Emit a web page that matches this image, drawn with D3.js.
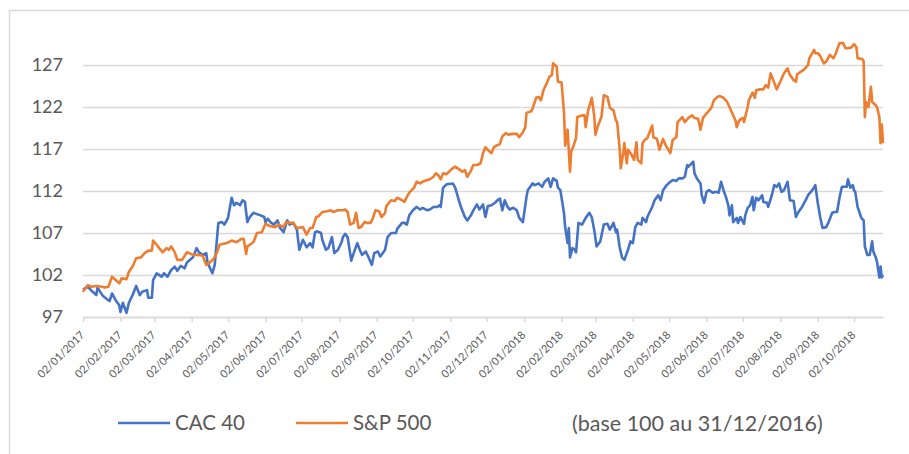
<!DOCTYPE html>
<html>
<head>
<meta charset="utf-8">
<script src="https://cdn.jsdelivr.net/npm/d3@7"></script>
<style>
  body { margin: 0; background: #fff; }
  svg { display: block; font-family: Lato, "Open Sans", sans-serif; }
</style>
</head>
<body>
<div id="wrapper"></div>
<script>
// values (base 100 au 31/12/2016)
const cac40 = [
  ["2017-01-02",100.3],["2017-01-06",100.6],["2017-01-10",100.0],["2017-01-13",99.6],["2017-01-14",100.5],
  ["2017-01-18",99.6],["2017-01-22",99.1],["2017-01-24",98.9],["2017-01-26",99.8],["2017-01-29",99.0],
  ["2017-02-01",98.4],["2017-02-02",97.6],["2017-02-04",98.7],["2017-02-07",97.5],["2017-02-09",98.7],
  ["2017-02-12",99.6],["2017-02-15",100.7],["2017-02-18",99.6],["2017-02-20",100.0],["2017-02-24",100.2],
  ["2017-02-25",99.3],["2017-02-28",99.3],["2017-03-01",101.4],["2017-03-04",102.2],["2017-03-08",101.8],
  ["2017-03-10",102.2],["2017-03-13",101.8],["2017-03-16",102.6],["2017-03-19",103.0],["2017-03-21",102.5],
  ["2017-03-24",103.1],["2017-03-27",102.8],["2017-03-29",103.5],["2017-04-03",104.1],["2017-04-06",105.2],
  ["2017-04-08",104.7],["2017-04-11",104.4],["2017-04-14",104.6],["2017-04-15",103.5],["2017-04-19",102.2],
  ["2017-04-21",103.2],["2017-04-24",108.2],["2017-04-27",108.3],["2017-04-29",108.0],["2017-05-02",108.8],
  ["2017-05-05",111.2],["2017-05-07",110.3],["2017-05-09",110.6],["2017-05-12",110.3],["2017-05-14",110.9],
  ["2017-05-16",110.7],["2017-05-18",108.3],["2017-05-20",108.9],["2017-05-23",109.4],["2017-05-29",109.1],
  ["2017-06-01",108.9],["2017-06-02",108.3],["2017-06-04",108.7],["2017-06-06",108.3],["2017-06-09",108.0],
  ["2017-06-12",108.5],["2017-06-14",107.6],["2017-06-17",107.1],["2017-06-20",108.5],["2017-06-22",108.0],
  ["2017-06-25",108.2],["2017-06-28",107.4],["2017-06-30",105.0],["2017-07-03",106.2],["2017-07-06",105.3],
  ["2017-07-09",105.8],["2017-07-11",105.3],["2017-07-13",107.1],["2017-07-15",107.2],["2017-07-18",107.0],
  ["2017-07-19",106.2],["2017-07-22",105.0],["2017-07-24",105.2],["2017-07-27",106.5],["2017-07-29",104.6],
  ["2017-08-01",105.0],["2017-08-04",105.9],["2017-08-05",106.5],["2017-08-07",106.9],["2017-08-09",106.5],
  ["2017-08-12",103.7],["2017-08-14",104.6],["2017-08-17",105.8],["2017-08-19",105.0],["2017-08-21",104.4],
  ["2017-08-24",104.8],["2017-08-26",104.2],["2017-08-29",103.2],["2017-08-31",104.6],["2017-09-03",104.8],
  ["2017-09-05",104.2],["2017-09-09",105.0],["2017-09-11",106.5],["2017-09-14",107.0],["2017-09-18",107.0],
  ["2017-09-19",107.5],["2017-09-23",108.2],["2017-09-25",108.2],["2017-09-27",108.0],["2017-09-29",109.1],
  ["2017-10-02",109.7],["2017-10-05",110.1],["2017-10-08",109.8],["2017-10-10",110.0],["2017-10-14",109.7],
  ["2017-10-16",109.8],["2017-10-19",110.1],["2017-10-22",110.1],["2017-10-24",110.3],["2017-10-25",110.1],
  ["2017-10-27",112.4],["2017-10-30",112.8],["2017-11-04",112.9],["2017-11-06",112.4],["2017-11-09",110.9],
  ["2017-11-11",110.0],["2017-11-14",108.9],["2017-11-16",108.5],["2017-11-19",109.1],["2017-11-21",109.7],
  ["2017-11-24",110.4],["2017-11-26",109.8],["2017-11-29",110.4],["2017-12-01",108.9],["2017-12-03",110.2],
  ["2017-12-06",110.3],["2017-12-09",110.6],["2017-12-11",110.9],["2017-12-13",111.1],["2017-12-15",109.7],
  ["2017-12-17",110.9],["2017-12-19",110.2],["2017-12-21",109.8],["2017-12-24",110.0],["2017-12-27",109.7],
  ["2017-12-29",108.8],["2018-01-01",108.3],["2018-01-04",111.3],["2018-01-05",112.1],["2018-01-09",112.9],
  ["2018-01-11",112.7],["2018-01-14",112.9],["2018-01-17",112.5],["2018-01-19",113.1],["2018-01-22",113.5],
  ["2018-01-24",112.5],["2018-01-26",113.5],["2018-01-29",113.2],["2018-01-30",112.4],["2018-02-01",112.1],
  ["2018-02-04",109.4],["2018-02-05",107.7],["2018-02-07",105.8],["2018-02-08",107.6],["2018-02-09",104.1],
  ["2018-02-11",105.2],["2018-02-13",105.0],["2018-02-14",104.7],["2018-02-16",108.2],["2018-02-19",108.0],
  ["2018-02-22",108.8],["2018-02-25",109.4],["2018-02-27",108.9],["2018-03-01",107.4],["2018-03-03",105.4],
  ["2018-03-06",106.0],["2018-03-09",108.0],["2018-03-12",108.1],["2018-03-14",107.4],["2018-03-17",108.2],
  ["2018-03-19",107.1],["2018-03-20",107.4],["2018-03-22",105.4],["2018-03-24",104.1],["2018-03-26",103.8],
  ["2018-03-29",105.0],["2018-03-31",106.0],["2018-04-02",105.8],["2018-04-04",107.7],["2018-04-06",108.2],
  ["2018-04-09",108.0],["2018-04-10",108.8],["2018-04-13",108.3],["2018-04-14",108.9],["2018-04-18",110.1],
  ["2018-04-20",110.9],["2018-04-23",111.5],["2018-04-25",110.9],["2018-04-27",112.1],["2018-04-30",112.7],
  ["2018-05-03",113.1],["2018-05-05",113.3],["2018-05-08",113.2],["2018-05-10",113.5],["2018-05-13",113.5],
  ["2018-05-15",113.7],["2018-05-17",115.1],["2018-05-18",114.9],["2018-05-22",115.5],["2018-05-23",114.1],
  ["2018-05-25",113.5],["2018-05-28",112.9],["2018-05-29",111.5],["2018-05-31",110.6],["2018-06-02",111.9],
  ["2018-06-04",112.1],["2018-06-07",111.8],["2018-06-10",111.9],["2018-06-12",111.8],["2018-06-14",113.1],
  ["2018-06-16",112.1],["2018-06-18",111.3],["2018-06-20",110.3],["2018-06-21",109.1],["2018-06-23",110.3],
  ["2018-06-24",108.3],["2018-06-27",108.8],["2018-06-28",108.2],["2018-06-30",108.9],["2018-07-03",108.1],
  ["2018-07-04",109.1],["2018-07-06",110.0],["2018-07-08",110.3],["2018-07-10",111.3],["2018-07-11",109.7],
  ["2018-07-13",111.2],["2018-07-15",110.9],["2018-07-18",111.5],["2018-07-19",110.7],["2018-07-22",110.6],
  ["2018-07-23",110.1],["2018-07-26",111.5],["2018-07-28",112.7],["2018-07-30",112.5],["2018-08-01",112.9],
  ["2018-08-03",111.9],["2018-08-05",112.1],["2018-08-08",113.1],["2018-08-10",110.9],["2018-08-13",110.8],
  ["2018-08-15",108.9],["2018-08-17",109.5],["2018-08-20",110.1],["2018-08-23",110.9],["2018-08-25",111.5],
  ["2018-08-29",112.2],["2018-08-31",112.7],["2018-09-02",110.6],["2018-09-04",108.9],["2018-09-06",107.6],
  ["2018-09-09",107.7],["2018-09-11",108.3],["2018-09-14",109.4],["2018-09-16",109.5],["2018-09-18",109.5],
  ["2018-09-20",111.2],["2018-09-22",112.5],["2018-09-24",112.5],["2018-09-26",112.5],["2018-09-27",113.4],
  ["2018-09-29",112.4],["2018-10-01",112.7],["2018-10-02",112.1],["2018-10-03",111.9],["2018-10-05",110.1],
  ["2018-10-06",109.7],["2018-10-08",108.8],["2018-10-10",108.5],["2018-10-11",105.4],["2018-10-13",104.4],
  ["2018-10-15",104.4],["2018-10-17",106.0],["2018-10-18",104.8],["2018-10-20",104.1],["2018-10-21",103.6],
  ["2018-10-23",101.7],["2018-10-24",103.0],["2018-10-25",101.7],["2018-10-26",102.0]
]

const sp500 = [
  ["2017-01-02",100.0],["2017-01-06",100.8],["2017-01-09",100.6],["2017-01-13",100.7],["2017-01-18",100.6],
  ["2017-01-20",100.5],["2017-01-23",100.6],["2017-01-26",101.8],["2017-01-29",101.4],["2017-02-01",101.0],
  ["2017-02-03",101.6],["2017-02-07",101.5],["2017-02-09",102.4],["2017-02-12",103.0],["2017-02-15",104.0],
  ["2017-02-19",104.1],["2017-02-22",104.6],["2017-02-25",104.9],["2017-02-28",104.9],["2017-03-01",106.1],
  ["2017-03-04",105.6],["2017-03-06",105.2],["2017-03-09",104.7],["2017-03-12",105.2],["2017-03-14",105.0],
  ["2017-03-16",105.4],["2017-03-19",104.7],["2017-03-21",103.8],["2017-03-25",103.8],["2017-03-29",104.7],
  ["2017-04-03",104.4],["2017-04-07",104.4],["2017-04-11",104.3],["2017-04-14",103.2],["2017-04-17",103.5],
  ["2017-04-20",103.9],["2017-04-23",104.7],["2017-04-25",105.6],["2017-05-01",105.8],["2017-05-05",106.1],
  ["2017-05-09",105.9],["2017-05-13",106.3],["2017-05-15",106.3],["2017-05-17",104.5],["2017-05-18",105.4],
  ["2017-05-23",105.9],["2017-05-26",107.0],["2017-05-30",107.1],["2017-06-02",108.1],["2017-06-06",107.8],
  ["2017-06-10",107.7],["2017-06-13",108.0],["2017-06-17",107.7],["2017-06-19",108.3],["2017-06-22",108.2],
  ["2017-06-25",108.2],["2017-06-28",107.6],["2017-07-03",107.7],["2017-07-06",106.8],["2017-07-09",107.6],
  ["2017-07-11",107.6],["2017-07-14",108.9],["2017-07-16",109.0],["2017-07-19",109.5],["2017-07-23",109.6],
  ["2017-07-26",109.7],["2017-07-28",109.5],["2017-08-01",109.7],["2017-08-05",109.7],["2017-08-07",109.8],
  ["2017-08-09",109.5],["2017-08-11",108.0],["2017-08-14",108.2],["2017-08-16",109.4],["2017-08-18",107.6],
  ["2017-08-20",107.7],["2017-08-23",108.3],["2017-08-25",108.2],["2017-08-28",108.2],["2017-08-30",108.8],
  ["2017-09-01",109.7],["2017-09-04",109.6],["2017-09-06",108.9],["2017-09-09",109.4],["2017-09-10",110.2],
  ["2017-09-14",110.9],["2017-09-17",110.8],["2017-09-19",111.2],["2017-09-23",110.9],["2017-09-25",110.7],
  ["2017-09-27",111.3],["2017-09-29",111.8],["2017-10-03",112.4],["2017-10-05",113.1],["2017-10-08",112.9],
  ["2017-10-10",113.1],["2017-10-14",113.3],["2017-10-16",113.4],["2017-10-19",113.7],["2017-10-21",114.1],
  ["2017-10-23",113.9],["2017-10-25",113.4],["2017-10-27",114.1],["2017-10-30",114.0],["2017-11-03",114.6],
  ["2017-11-06",114.9],["2017-11-09",114.6],["2017-11-12",114.3],["2017-11-14",114.5],["2017-11-16",113.7],
  ["2017-11-19",114.4],["2017-11-21",115.1],["2017-11-24",115.1],["2017-11-27",115.3],["2017-11-29",116.5],
  ["2017-12-01",117.2],["2017-12-03",116.9],["2017-12-06",116.5],["2017-12-08",117.2],["2017-12-10",117.4],
  ["2017-12-13",117.6],["2017-12-14",118.1],["2017-12-15",118.5],["2017-12-18",118.9],["2017-12-20",118.7],
  ["2017-12-23",118.8],["2017-12-27",118.8],["2017-12-29",118.4],["2018-01-01",119.0],["2018-01-03",119.6],
  ["2018-01-04",121.3],["2018-01-08",121.5],["2018-01-09",121.8],["2018-01-12",123.1],["2018-01-14",123.2],
  ["2018-01-16",122.8],["2018-01-18",124.0],["2018-01-20",124.6],["2018-01-23",125.6],["2018-01-25",125.8],
  ["2018-01-26",127.2],["2018-01-29",126.8],["2018-01-30",125.0],["2018-02-02",124.9],["2018-02-04",121.4],
  ["2018-02-05",117.4],["2018-02-07",119.3],["2018-02-09",114.3],["2018-02-10",116.7],["2018-02-12",117.4],
  ["2018-02-14",118.3],["2018-02-15",120.8],["2018-02-19",121.0],["2018-02-21",121.0],["2018-02-22",119.6],
  ["2018-02-24",121.6],["2018-02-27",123.1],["2018-03-01",121.0],["2018-03-02",118.7],["2018-03-04",119.7],
  ["2018-03-07",120.8],["2018-03-09",123.4],["2018-03-12",123.2],["2018-03-14",121.9],["2018-03-17",121.6],
  ["2018-03-19",120.4],["2018-03-20",120.2],["2018-03-22",117.2],["2018-03-23",114.7],["2018-03-25",116.5],
  ["2018-03-26",117.7],["2018-03-28",115.3],["2018-03-29",116.9],["2018-04-01",116.3],["2018-04-03",115.7],
  ["2018-04-05",117.8],["2018-04-06",115.7],["2018-04-09",115.3],["2018-04-10",117.7],["2018-04-12",118.1],
  ["2018-04-14",118.3],["2018-04-18",119.8],["2018-04-19",118.4],["2018-04-22",118.2],["2018-04-24",116.9],
  ["2018-04-27",118.2],["2018-04-29",117.5],["2018-05-03",116.5],["2018-05-05",118.1],["2018-05-08",118.4],
  ["2018-05-09",120.2],["2018-05-13",120.8],["2018-05-15",120.2],["2018-05-18",120.7],["2018-05-21",121.0],
  ["2018-05-23",120.7],["2018-05-26",120.6],["2018-05-28",119.3],["2018-05-30",120.7],["2018-06-03",121.4],
  ["2018-06-06",121.9],["2018-06-08",122.8],["2018-06-11",123.2],["2018-06-13",123.3],["2018-06-16",123.1],
  ["2018-06-19",122.6],["2018-06-21",122.0],["2018-06-24",121.0],["2018-06-26",120.4],["2018-06-27",119.6],
  ["2018-06-29",120.4],["2018-07-02",120.7],["2018-07-03",120.2],["2018-07-06",122.0],["2018-07-07",122.8],
  ["2018-07-10",123.7],["2018-07-12",123.1],["2018-07-13",124.0],["2018-07-16",124.1],["2018-07-19",124.1],
  ["2018-07-21",124.6],["2018-07-23",124.3],["2018-07-25",126.0],["2018-07-28",124.9],["2018-07-30",124.1],
  ["2018-08-02",125.0],["2018-08-05",126.0],["2018-08-08",126.6],["2018-08-10",125.8],["2018-08-13",125.2],
  ["2018-08-15",125.0],["2018-08-16",125.9],["2018-08-20",126.3],["2018-08-22",126.5],["2018-08-25",127.0],
  ["2018-08-26",127.8],["2018-08-30",128.8],["2018-08-31",128.4],["2018-09-02",128.4],["2018-09-04",128.1],
  ["2018-09-07",127.2],["2018-09-09",127.4],["2018-09-12",128.2],["2018-09-15",127.8],["2018-09-17",128.4],
  ["2018-09-20",129.6],["2018-09-23",129.6],["2018-09-25",129.0],["2018-09-27",129.0],["2018-09-30",129.1],
  ["2018-10-02",129.5],["2018-10-04",129.1],["2018-10-05",127.8],["2018-10-09",127.7],["2018-10-10",127.4],
  ["2018-10-11",120.8],["2018-10-12",122.6],["2018-10-14",122.0],["2018-10-16",124.4],["2018-10-17",122.6],
  ["2018-10-20",122.2],["2018-10-21",122.0],["2018-10-23",120.8],["2018-10-24",117.7],["2018-10-25",119.9],
  ["2018-10-26",117.7]
]

const yTicks = [97, 102, 107, 112, 117, 122, 127]
const xTickLabels = [
  "02/01/2017","02/02/2017","02/03/2017","02/04/2017","02/05/2017","02/06/2017","02/07/2017",
  "02/08/2017","02/09/2017","02/10/2017","02/11/2017","02/12/2017","02/01/2018","02/02/2018",
  "02/03/2018","02/04/2018","02/05/2018","02/06/2018","02/07/2018","02/08/2018","02/09/2018","02/10/2018"
]
const seriesNames = ["CAC 40", "S&P 500"]
const seriesColors = ["#4472C4", "#ED7D31"]
const note = "(base 100 au 31/12/2016)"

function drawChart() {
  const parseDay = d3.timeParse("%Y-%m-%d")
  const parseTick = d3.timeParse("%d/%m/%Y")
  const series = [cac40, sp500].map(s => s.map(d => ({ date: parseDay(d[0]), value: d[1] })))

  const dimensions = {
    width: 909,
    height: 454,
    margin: { top: 65, right: 26, bottom: 137, left: 83 },
  }
  dimensions.boundedWidth = dimensions.width - dimensions.margin.left - dimensions.margin.right
  dimensions.boundedHeight = dimensions.height - dimensions.margin.top - dimensions.margin.bottom

  const wrapper = d3.select("#wrapper")
    .append("svg")
    .attr("width", dimensions.width)
    .attr("height", dimensions.height)

  // light frame of the chart area
  wrapper.append("rect")
    .attr("x", 9.5).attr("y", 10.5)
    .attr("width", 1200).attr("height", 1200)
    .attr("fill", "none")
    .attr("stroke", "#d9d9d9")
    .attr("stroke-width", 1.5)

  const bounds = wrapper.append("g")
    .attr("transform", `translate(${dimensions.margin.left},${dimensions.margin.top})`)

  const allDates = series.flat().map(d => d.date)
  const xScale = d3.scaleTime()
    .domain(d3.extent(allDates))
    .range([0, dimensions.boundedWidth])

  const yScale = d3.scaleLinear()
    .domain([yTicks[0], yTicks[yTicks.length - 1]])
    .range([dimensions.boundedHeight, 0])

  // gridlines
  const yAxisGenerator = d3.axisLeft(yScale)
    .tickValues(yTicks)
    .tickSize(-dimensions.boundedWidth)
    .tickPadding(20)
    .tickFormat(d3.format("d"))

  const yAxis = bounds.append("g").call(yAxisGenerator)
  yAxis.select(".domain").remove()
  yAxis.selectAll(".tick line")
    .attr("stroke", "#d9d9d9")
    .attr("stroke-width", 1.5)
  yAxis.selectAll(".tick text")
    .attr("fill", "#595959")
    .style("font-size", "18px")
    .style("font-family", "Lato, sans-serif")

  // date axis
  const xAxisGenerator = d3.axisBottom(xScale)
    .tickValues(xTickLabels.map(parseTick))
    .tickSize(5)
    .tickSizeOuter(0)
    .tickFormat(d3.timeFormat("%d/%m/%Y"))

  const xAxis = bounds.append("g")
    .attr("transform", `translate(0,${dimensions.boundedHeight})`)
    .call(xAxisGenerator)
  xAxis.select(".domain")
    .attr("stroke", "#d9d9d9")
    .attr("stroke-width", 1.5)
  xAxis.selectAll(".tick line")
    .attr("stroke", "#d9d9d9")
    .attr("stroke-width", 1.5)
  xAxis.selectAll(".tick text")
    .attr("fill", "#595959")
    .style("font-size", "11px")
    .style("font-family", "Lato, sans-serif")
    .attr("text-anchor", "end")
    .attr("dy", "0.35em")
    .attr("transform", "translate(-1,16) rotate(-45)")
    .attr("x", 0)
    .attr("y", 0)

  // lines
  const lineGenerator = d3.line()
    .x(d => xScale(d.date))
    .y(d => yScale(d.value))

  bounds.selectAll(".series")
    .data(series)
    .enter().append("path")
      .attr("class", "series")
      .attr("d", lineGenerator)
      .attr("fill", "none")
      .attr("stroke", (d, i) => seriesColors[i])
      .attr("stroke-width", 2.6)
      .attr("stroke-linejoin", "round")

  // legend
  const legendY = 423
  const legendX = [118, 296]
  const legend = wrapper.selectAll(".legend")
    .data(seriesNames)
    .enter().append("g")
      .attr("class", "legend")
      .attr("transform", (d, i) => `translate(${legendX[i]},${legendY})`)

  legend.append("line")
    .attr("x1", 0).attr("x2", 52)
    .attr("stroke", (d, i) => seriesColors[i])
    .attr("stroke-width", 2.6)

  legend.append("text")
    .attr("x", 57)
    .attr("dy", "0.35em")
    .attr("fill", "#595959")
    .style("font-size", "20.5px")
    .text(d => d)

  wrapper.append("text")
    .attr("x", 572)
    .attr("y", legendY)
    .attr("dy", "0.35em")
    .attr("fill", "#595959")
    .style("font-size", "21.5px")
    .text(note)
}

drawChart()
</script>
</body>
</html>
